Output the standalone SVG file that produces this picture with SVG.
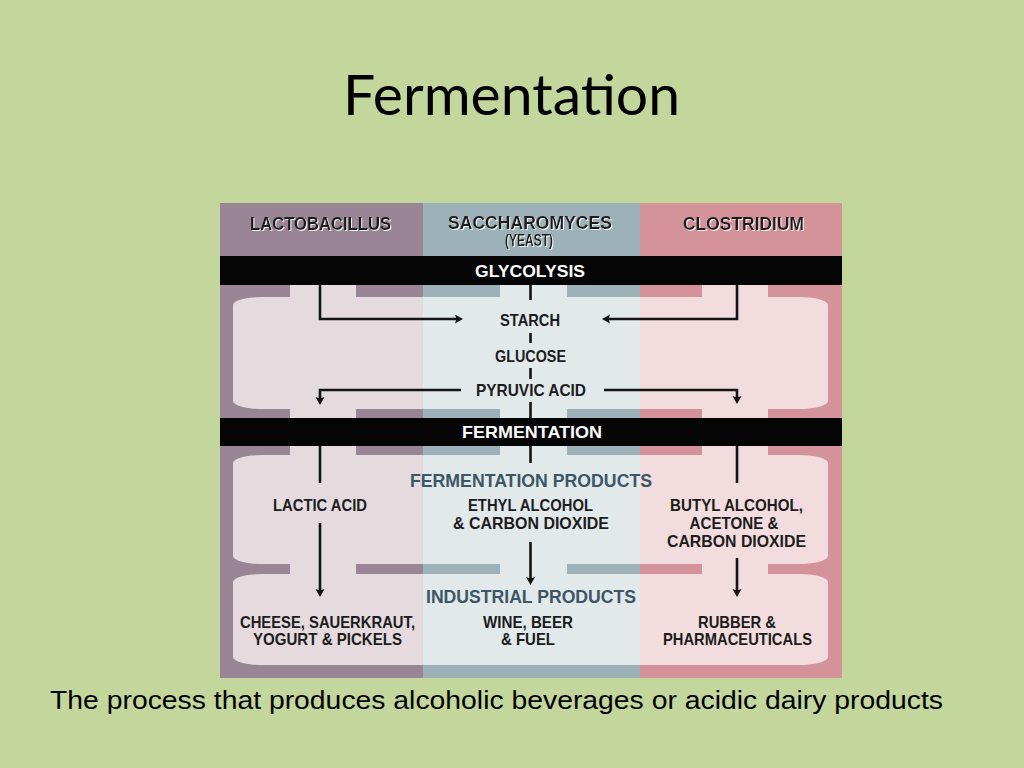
<svg xmlns="http://www.w3.org/2000/svg" width="1024" height="768" viewBox="0 0 1024 768">
<style>
.d{font-family:"Liberation Sans",Arial,sans-serif;font-weight:bold;fill:#1c1c1c;text-anchor:middle;font-size:16.5px}
.h{font-size:18px;fill:#1a1a1a}
.w{fill:#ffffff;font-size:17px}
.s{fill:#3d5665;font-size:18px}
.c{fill:none;stroke:#141414;stroke-width:2.6}
</style>
<defs>
<marker id="ah" markerUnits="userSpaceOnUse" markerWidth="10" markerHeight="10" refX="4" refY="4.5" orient="auto">
<path d="M0,0 L8,4.5 L0,9 L1.5,4.5 z" fill="#141414"/>
</marker>
<filter id="sh" x="-5%" y="-30%" width="110%" height="160%">
<feOffset in="SourceAlpha" dx="1.2" dy="1.2" result="o"/>
<feFlood flood-color="#ffffff" flood-opacity="0.85"/>
<feComposite in2="o" operator="in" result="s"/>
<feMerge><feMergeNode in="s"/><feMergeNode in="SourceGraphic"/></feMerge>
</filter>
<clipPath id="cp1"><rect x="220" y="203" width="203" height="475"/></clipPath>
<clipPath id="cp2"><rect x="423" y="203" width="217" height="475"/></clipPath>
<clipPath id="cp3"><rect x="640" y="203" width="202" height="475"/></clipPath>
<g id="light">
<rect x="233" y="297" width="595" height="112" rx="30" ry="8"/>
<rect x="290" y="285" width="66" height="133"/>
<rect x="500" y="285" width="67" height="133"/>
<rect x="702" y="285" width="66" height="133"/>
<rect x="233" y="455" width="595" height="109" rx="30" ry="8"/>
<rect x="233" y="574" width="595" height="91" rx="30" ry="8"/>
<rect x="290" y="446" width="66" height="135"/>
<rect x="500" y="446" width="67" height="135"/>
<rect x="702" y="446" width="66" height="135"/>
</g>
</defs>
<rect width="1024" height="768" fill="#c3d69b"/>
<text x="511.5" y="115" font-family="Lato,'Open Sans',sans-serif" font-size="57" fill="#000" text-anchor="middle" textLength="337" lengthAdjust="spacingAndGlyphs">Fermentation</text>

<g id="background">
<rect x="220" y="203" width="203" height="475" fill="#9a8597"/>
<rect x="423" y="203" width="217" height="475" fill="#9db1b9"/>
<rect x="640" y="203" width="202" height="475" fill="#d4939b"/>
<use href="#light" fill="#e5dade" clip-path="url(#cp1)"/>
<use href="#light" fill="#e2e9eb" clip-path="url(#cp2)"/>
<use href="#light" fill="#f3dcdd" clip-path="url(#cp3)"/>
</g>

<g id="header-lactobacillus"><text class="d h" x="320.5" y="230" textLength="141" lengthAdjust="spacingAndGlyphs" filter="url(#sh)">LACTOBACILLUS</text></g>
<g id="header-saccharomyces"><text class="d h" x="530" y="229" textLength="164" lengthAdjust="spacingAndGlyphs" filter="url(#sh)">SACCHAROMYCES</text>
<text class="d" x="529" y="246" font-size="11.5" textLength="48" lengthAdjust="spacingAndGlyphs" filter="url(#sh)">(YEAST)</text></g>
<g id="header-clostridium"><text class="d h" x="743.5" y="230" textLength="121" lengthAdjust="spacingAndGlyphs" filter="url(#sh)">CLOSTRIDIUM</text></g>

<g id="bar-glycolysis"><rect x="220" y="256" width="622" height="29" fill="#050505"/>
<text class="d w" x="530" y="277" textLength="110" lengthAdjust="spacingAndGlyphs">GLYCOLYSIS</text></g>
<g id="bar-fermentation"><rect x="220" y="418" width="622" height="28" fill="#050505"/>
<text class="d w" x="532" y="438" textLength="140" lengthAdjust="spacingAndGlyphs">FERMENTATION</text></g>

<g id="starch"><text class="d" x="530" y="326" textLength="60" lengthAdjust="spacingAndGlyphs">STARCH</text></g>
<g id="glucose"><text class="d" x="530.5" y="362" textLength="71" lengthAdjust="spacingAndGlyphs">GLUCOSE</text></g>
<g id="pyruvic-acid"><text class="d" x="531" y="396" textLength="110" lengthAdjust="spacingAndGlyphs">PYRUVIC ACID</text></g>

<g id="fermentation-products"><text class="d s" x="531" y="487" textLength="242" lengthAdjust="spacingAndGlyphs">FERMENTATION PRODUCTS</text></g>
<g id="lactic-acid"><text class="d" x="320" y="511" textLength="94" lengthAdjust="spacingAndGlyphs">LACTIC ACID</text></g>
<g id="ethyl-alcohol"><text class="d" x="530.5" y="511" textLength="125" lengthAdjust="spacingAndGlyphs">ETHYL ALCOHOL</text>
<text class="d" x="531" y="529" textLength="156" lengthAdjust="spacingAndGlyphs">&amp; CARBON DIOXIDE</text></g>
<g id="butyl-alcohol"><text class="d" x="736.5" y="511" textLength="133" lengthAdjust="spacingAndGlyphs">BUTYL ALCOHOL,</text>
<text class="d" x="734" y="529" textLength="89" lengthAdjust="spacingAndGlyphs">ACETONE &amp;</text>
<text class="d" x="736.5" y="547" textLength="139" lengthAdjust="spacingAndGlyphs">CARBON DIOXIDE</text></g>

<g id="industrial-products"><text class="d s" x="531" y="603" textLength="210" lengthAdjust="spacingAndGlyphs">INDUSTRIAL PRODUCTS</text></g>
<g id="cheese"><text class="d" x="327.5" y="628" textLength="175" lengthAdjust="spacingAndGlyphs">CHEESE, SAUERKRAUT,</text>
<text class="d" x="327.5" y="645" textLength="149" lengthAdjust="spacingAndGlyphs">YOGURT &amp; PICKELS</text></g>
<g id="wine"><text class="d" x="528" y="628" textLength="90" lengthAdjust="spacingAndGlyphs">WINE, BEER</text>
<text class="d" x="528" y="645" textLength="54" lengthAdjust="spacingAndGlyphs">&amp; FUEL</text></g>
<g id="rubber"><text class="d" x="737" y="628" textLength="78" lengthAdjust="spacingAndGlyphs">RUBBER &amp;</text>
<text class="d" x="737.5" y="645" textLength="149" lengthAdjust="spacingAndGlyphs">PHARMACEUTICALS</text></g>

<g id="connectors">
<path class="c" d="M320,285 V319 H459" marker-end="url(#ah)"/>
<path class="c" d="M737,285 V319 H606" marker-end="url(#ah)"/>
<path class="c" d="M461,390 H320 V401" marker-end="url(#ah)"/>
<path class="c" d="M604,390 H737 V400" marker-end="url(#ah)"/>
<path class="c" d="M530.5,285 V300 M530.5,333 V343 M530.5,368 V379 M530.5,402 V418"/>
<path class="c" d="M320,446 V483 M737,446 V483 M530.5,446 V463"/>
<path class="c" d="M320,523 V593" marker-end="url(#ah)"/>
<path class="c" d="M530.5,542 V581" marker-end="url(#ah)"/>
<path class="c" d="M737,558 V593" marker-end="url(#ah)"/>
</g>

<text x="50" y="709" font-family="'Liberation Sans',Arial,sans-serif" font-size="26" fill="#000" textLength="893" lengthAdjust="spacingAndGlyphs">The process that produces alcoholic beverages or acidic dairy products</text>
</svg>
